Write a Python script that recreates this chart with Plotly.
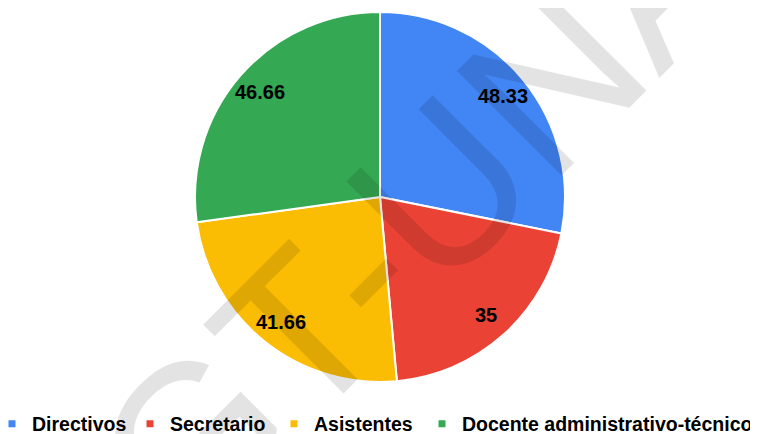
import numpy as np
import plotly.graph_objects as go

categories = ["Directivos", "Secretario", "Asistentes", "Docente administrativo-técnico"]
values = [48.33, 35, 41.66, 46.66]
text_labels = ["48.33", "35", "41.66", "46.66"]
colors = ["#4285F4", "#EA4335", "#FBBC04", "#34A853"]
watermark = "GT-UNA"

W, H = 750, 426
dom = dict(x=[0.2493, 0.7427], y=[0.1221, 0.9906])
font_family = "Liberation Sans, Arial, sans-serif"
legend_font = dict(family=font_family, size=19.5, color="black", weight="bold")

fig = go.Figure()
fig.add_trace(go.Pie(
    labels=categories,
    values=values,
    textinfo="none",
    marker=dict(colors=colors, line=dict(color="white", width=2)),
    sort=False,
    direction="clockwise",
    rotation=0,
    domain=dom,
    showlegend=False,
    hoverinfo="label+value",
))

# legend entries (small square keys, one per category)
entry_widths = [93, 99, 100, 330]
legend_ids = ["legend", "legend", "legend", "legend2"]
for cat, col, ew, lg in zip(categories, colors, entry_widths, legend_ids):
    fig.add_trace(go.Scatter(
        x=[None], y=[None], mode="markers", name=cat,
        marker=dict(symbol="square", size=7, color=col),
        legend=lg, legendwidth=ew, showlegend=True, hoverinfo="skip",
    ))

fig.add_annotation(
    text=watermark, x=412 / W, y=1 - 203 / H, xref="paper", yref="paper",
    xanchor="center", yanchor="middle",
    showarrow=False, textangle=-45,
    font=dict(family=font_family, size=215, color="rgba(0,0,0,0.11)"),
)

# value labels placed along each slice's bisector, near the rim (derived from the data)
vals = np.array(values, dtype=float)
mid_frac = (np.cumsum(vals) - vals / 2) / vals.sum()
theta = mid_frac * 2 * np.pi
cx = (dom["x"][0] + dom["x"][1]) / 2 * W
cy = (dom["y"][0] + dom["y"][1]) / 2 * H
rad = min((dom["x"][1] - dom["x"][0]) * W, (dom["y"][1] - dom["y"][0]) * H) / 2
rfac = 0.86
for t, lab in zip(theta, text_labels):
    px = cx + rfac * rad * np.sin(t)
    py = cy + rfac * rad * np.cos(t)
    fig.add_annotation(
        text=lab, x=px / W, y=py / H, xref="paper", yref="paper",
        xanchor="center", yanchor="middle", showarrow=False,
        font=dict(family=font_family, size=20, color="black", weight="bold"),
    )

fig.update_layout(
    width=W, height=H,
    margin=dict(l=0, r=0, t=0, b=0, autoexpand=False),
    paper_bgcolor="white",
    plot_bgcolor="rgba(0,0,0,0)",
    xaxis=dict(visible=False),
    yaxis=dict(visible=False),
    legend=dict(
        orientation="h", x=411 / W, xanchor="right", y=0.0235, yanchor="middle",
        font=legend_font, itemwidth=30, bgcolor="rgba(0,0,0,0)",
    ),
    legend2=dict(
        orientation="h", x=414 / W, xanchor="left", y=0.0235, yanchor="middle",
        font=legend_font, itemwidth=30, bgcolor="rgba(0,0,0,0)",
    ),
)

fig.write_html("out.html")
